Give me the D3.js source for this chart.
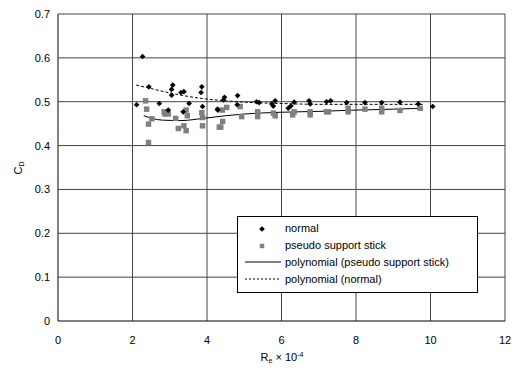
<!DOCTYPE html>
<html><head><meta charset="utf-8">
<script src="https://cdn.jsdelivr.net/npm/d3@7"></script>
<style>body{margin:0;background:#fff}svg{display:block}text{font-family:"Liberation Sans",Arial,sans-serif;font-size:11px;fill:#000}</style>
</head><body><svg id="c" width="518" height="370"></svg>
<script>
const xTicks=[0,2,4,6,8,10,12];
const yTicks=[0,0.1,0.2,0.3,0.4,0.5,0.6,0.7];
const normalX=[2.27,2.11,2.44,2.72,3.08,3.05,3.05,3.30,3.38,2.96,3.36,3.52,3.86,3.84,3.88,4.29,4.47,4.44,4.82,4.28,4.81,5.33,5.40,5.74,5.78,5.83,6.18,6.25,6.34,6.74,6.77,7.21,7.32,7.75,8.24,8.69,9.18,9.67,10.06];
const normalY=[0.603,0.493,0.534,0.496,0.538,0.528,0.515,0.521,0.523,0.481,0.477,0.496,0.534,0.521,0.489,0.481,0.510,0.504,0.514,0.483,0.493,0.500,0.498,0.495,0.490,0.502,0.485,0.490,0.499,0.502,0.495,0.500,0.502,0.498,0.498,0.498,0.499,0.495,0.489];
const pseudoX=[2.35,2.38,2.52,2.43,2.43,2.85,2.96,2.87,3.16,3.23,3.38,3.44,3.44,3.47,3.86,3.88,3.88,4.33,4.41,4.53,4.42,4.37,4.89,4.93,5.36,5.36,5.78,5.83,6.34,6.30,6.77,6.77,7.21,7.26,7.79,7.79,8.24,8.69,8.69,9.18,9.72];
const pseudoY=[0.502,0.483,0.461,0.449,0.407,0.477,0.472,0.472,0.462,0.439,0.445,0.434,0.481,0.468,0.475,0.464,0.445,0.442,0.481,0.487,0.455,0.442,0.489,0.466,0.477,0.466,0.474,0.468,0.477,0.470,0.477,0.470,0.477,0.477,0.485,0.477,0.483,0.485,0.477,0.480,0.485];
const polyNormX=[2.1,2.5,3.0,3.5,4.0,4.5,5.0,6.0,7.0,8.0,9.0,9.8];
const polyNormY=[0.538,0.530,0.520,0.512,0.506,0.502,0.499,0.496,0.494,0.494,0.494,0.494];
const polyPseX=[2.3,2.8,3.3,3.9,4.5,5.0,6.0,7.0,8.0,9.0,9.8];
const polyPseY=[0.468,0.458,0.457,0.462,0.468,0.472,0.476,0.478,0.481,0.483,0.485];
const legendLabels=["normal","pseudo support stick","polynomial (pseudo support stick)","polynomial (normal)"];

const svg=d3.select("#c");
const L=58,R=505,T=14,B=321;
const x=d3.scaleLinear().domain([0,12]).range([L,R]);
const y=d3.scaleLinear().domain([0,0.7]).range([B,T]);
const g=svg.append("g");
g.selectAll(".vg").data(xTicks).join("line").attr("x1",d=>x(d)).attr("x2",d=>x(d)).attr("y1",T).attr("y2",B).attr("stroke",d=>d===0?"#000":"#444").attr("stroke-width",1);
g.selectAll(".hg").data(yTicks).join("line").attr("y1",d=>y(d)).attr("y2",d=>y(d)).attr("x1",L).attr("x2",R).attr("stroke",d=>d===0?"#000":"#444").attr("stroke-width",1);
g.selectAll(".xt").data(xTicks).join("text").attr("x",d=>x(d)).attr("y",344).attr("text-anchor","middle").text(d=>d);
g.selectAll(".yt").data(yTicks).join("text").attr("x",50).attr("y",d=>y(d)+4).attr("text-anchor","end").text(d=>d===0?"0":d.toFixed(1));

const line=d3.line().x(d=>x(d[0])).y(d=>y(d[1])).curve(d3.curveMonotoneX);
svg.append("path").datum(polyPseX.map((v,i)=>[v,polyPseY[i]])).attr("d",line).attr("fill","none").attr("stroke","#000").attr("stroke-width",1);
svg.append("path").datum(polyNormX.map((v,i)=>[v,polyNormY[i]])).attr("d",line).attr("fill","none").attr("stroke","#000").attr("stroke-width",1).attr("stroke-dasharray","3,2");

const sq=d3.symbol().type(d3.symbolSquare).size(30);
const dm=d3.symbol().type(d3.symbolSquare).size(16);
svg.selectAll(".ps").data(pseudoX.map((v,i)=>[v,pseudoY[i]])).join("path").attr("d",sq).attr("transform",d=>`translate(${x(d[0])},${y(d[1])})`).attr("fill","#808080");
svg.selectAll(".nm").data(normalX.map((v,i)=>[v,normalY[i]])).join("path").attr("d",dm).attr("transform",d=>`translate(${x(d[0])},${y(d[1])}) rotate(45)`).attr("fill","#000");

// axis titles
const xt=svg.append("text").attr("x",282).attr("y",361).attr("text-anchor","middle");
xt.append("tspan").text("R");
xt.append("tspan").attr("font-size","7px").attr("dy",2).text("e");
xt.append("tspan").attr("dy",-2).text(" \u00d7 10");
xt.append("tspan").attr("font-size","7px").attr("dy",-4).text("-4");
const yt=svg.append("text").attr("transform","translate(22,168) rotate(-90)").attr("text-anchor","middle");
yt.append("tspan").text("C");
yt.append("tspan").attr("font-size","7px").attr("dy",2).text("D");

// legend
const lg=svg.append("g");
lg.append("rect").attr("x",237.5).attr("y",216.5).attr("width",240).attr("height",76).attr("fill","#fff").attr("stroke","#000");
const ly=[228,245,262,279];
lg.selectAll(".lt").data(legendLabels).join("text").attr("x",285).attr("y",(d,i)=>ly[i]+4).text(d=>d);
lg.append("path").attr("d",dm).attr("transform",`translate(262,${ly[0]+1}) rotate(45)`).attr("fill","#000");
lg.append("path").attr("d",d3.symbol().type(d3.symbolSquare).size(20)).attr("transform",`translate(262,${ly[1]+1})`).attr("fill","#808080");
lg.append("line").attr("x1",245).attr("x2",281).attr("y1",ly[2]).attr("y2",ly[2]).attr("stroke","#000");
lg.append("line").attr("x1",245).attr("x2",281).attr("y1",ly[3]).attr("y2",ly[3]).attr("stroke","#000").attr("stroke-dasharray","2,2");
</script></body></html>
